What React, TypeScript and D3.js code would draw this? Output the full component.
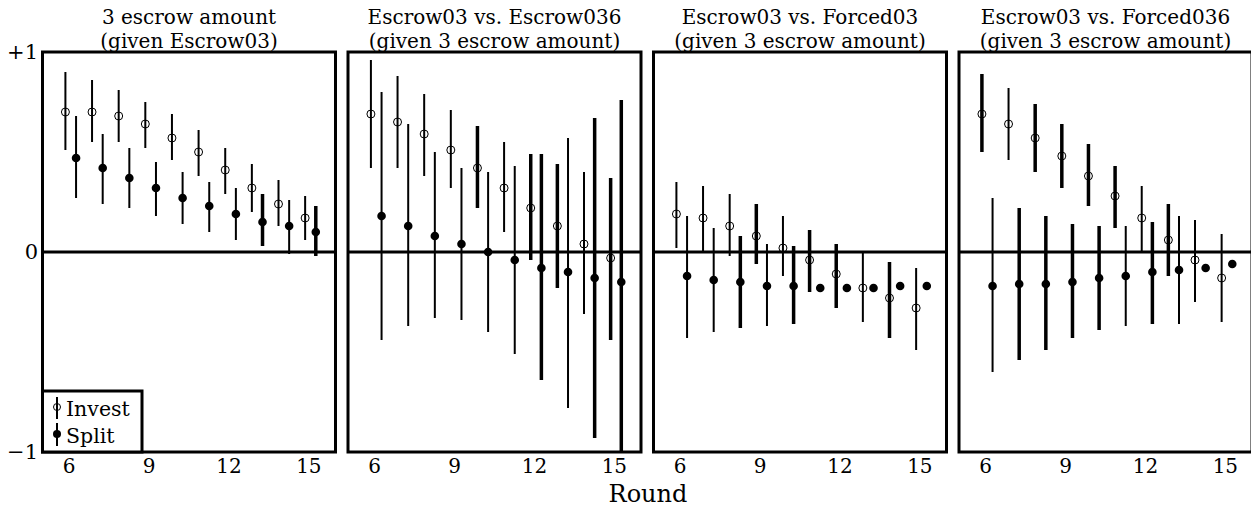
import { scaleLinear } from "d3";

const rounds = [6, 7, 8, 9, 10, 11, 12, 13, 14, 15];
const roundTicks = [6, 9, 12, 15];
const valueTicks = [1, 0, -1];
const valueTickLabels = ["+1", "0", "\u22121"];

const panelTitles = [
    ["3 escrow amount", "(given Escrow03)"],
    ["Escrow03 vs. Escrow036", "(given 3 escrow amount)"],
    ["Escrow03 vs. Forced03", "(given 3 escrow amount)"],
    ["Escrow03 vs. Forced036", "(given 3 escrow amount)"],
];

// [estimate, lower, upper] for each round
const amountInvest = [
    [0.7, 0.51, 0.9], [0.7, 0.55, 0.86], [0.68, 0.55, 0.81], [0.64, 0.52, 0.75], [0.57, 0.46, 0.69],
    [0.5, 0.38, 0.61], [0.41, 0.29, 0.52], [0.32, 0.2, 0.44], [0.24, 0.13, 0.36], [0.17, 0.06, 0.28],
];
const amountSplit = [
    [0.47, 0.27, 0.68], [0.42, 0.24, 0.59], [0.37, 0.22, 0.52], [0.32, 0.18, 0.45], [0.27, 0.14, 0.4],
    [0.23, 0.1, 0.35], [0.19, 0.06, 0.32], [0.15, 0.03, 0.29], [0.13, -0.01, 0.26], [0.1, -0.02, 0.23],
];
const escrow036Invest = [
    [0.69, 0.42, 0.96], [0.65, 0.42, 0.88], [0.59, 0.38, 0.79], [0.51, 0.32, 0.71], [0.42, 0.22, 0.63],
    [0.32, 0.1, 0.55], [0.22, -0.04, 0.49], [0.13, -0.18, 0.44], [0.04, -0.31, 0.4], [-0.03, -0.44, 0.37],
];
const escrow036Split = [
    [0.18, -0.44, 0.8], [0.13, -0.37, 0.64], [0.08, -0.33, 0.5], [0.04, -0.34, 0.42], [0.0, -0.4, 0.4],
    [-0.04, -0.51, 0.43], [-0.08, -0.64, 0.49], [-0.1, -0.78, 0.57], [-0.13, -0.93, 0.67], [-0.15, -1.05, 0.76],
];
const forced03Invest = [
    [0.19, 0.02, 0.35], [0.17, 0.0, 0.33], [0.13, -0.02, 0.29], [0.08, -0.06, 0.24], [0.02, -0.12, 0.18],
    [-0.04, -0.2, 0.11], [-0.11, -0.28, 0.04], [-0.18, -0.35, 0.0], [-0.23, -0.43, -0.05], [-0.28, -0.49, -0.08],
];
const forced03Split = [
    [-0.12, -0.43, 0.18], [-0.14, -0.4, 0.12], [-0.15, -0.38, 0.08], [-0.17, -0.37, 0.04], [-0.17, -0.36, 0.03],
    [-0.18, -0.18, -0.18], [-0.18, -0.18, -0.18], [-0.18, -0.18, -0.18], [-0.17, -0.17, -0.17], [-0.17, -0.17, -0.17],
];
const forced036Invest = [
    [0.69, 0.5, 0.89], [0.64, 0.46, 0.82], [0.57, 0.4, 0.74], [0.48, 0.32, 0.64], [0.38, 0.23, 0.54],
    [0.28, 0.12, 0.43], [0.17, 0.0, 0.33], [0.06, -0.12, 0.24], [-0.04, -0.25, 0.16], [-0.13, -0.35, 0.09],
];
const forced036Split = [
    [-0.17, -0.6, 0.27], [-0.16, -0.54, 0.22], [-0.16, -0.49, 0.18], [-0.15, -0.43, 0.14], [-0.13, -0.39, 0.13],
    [-0.12, -0.37, 0.13], [-0.1, -0.36, 0.15], [-0.09, -0.36, 0.18], [-0.08, -0.08, -0.08], [-0.06, -0.06, -0.06],
];

// 1 = significant (drawn with the heavier bar)
const amountInvestSig = [0, 0, 0, 0, 0, 0, 0, 0, 0, 0];
const amountSplitSig = [0, 0, 0, 0, 0, 0, 0, 1, 0, 1];
const escrow036InvestSig = [0, 0, 0, 0, 1, 0, 1, 1, 0, 1];
const escrow036SplitSig = [0, 0, 0, 0, 0, 0, 1, 0, 1, 1];
const forced03InvestSig = [0, 0, 0, 1, 0, 1, 1, 0, 1, 0];
const forced03SplitSig = [0, 0, 1, 0, 1, 0, 0, 0, 0, 0];
const forced036InvestSig = [1, 0, 1, 1, 1, 1, 0, 1, 0, 0];
const forced036SplitSig = [0, 1, 1, 1, 1, 0, 1, 0, 0, 0];

const panels = [
    { invest: amountInvest, investSig: amountInvestSig, split: amountSplit, splitSig: amountSplitSig },
    { invest: escrow036Invest, investSig: escrow036InvestSig, split: escrow036Split, splitSig: escrow036SplitSig },
    { invest: forced03Invest, investSig: forced03InvestSig, split: forced03Split, splitSig: forced03SplitSig },
    { invest: forced036Invest, investSig: forced036InvestSig, split: forced036Split, splitSig: forced036SplitSig },
];

const FONT = "DejaVu Serif";
const top = 52;
const bottom = 452;
const panelW = 293;
const step = 305.5;
const left0 = 42.5;
const investOff = -0.14;
const splitOff = 0.26;

function Panel({ index }: { index: number }) {
    const left = left0 + index * step;
    const x = scaleLinear().domain([5, 16]).range([left, left + panelW]);
    const y = scaleLinear().domain([-1, 1]).range([bottom, top]);
    const p = panels[index];
    const clipId = `clip-${index}`;

    return (
        <g>
            <defs>
                <clipPath id={clipId}>
                    <rect x={left} y={top} width={panelW} height={bottom - top} />
                </clipPath>
            </defs>
            {panelTitles[index].map((t, i) => (
                <text key={i} x={left + panelW / 2} y={24 + i * 24} textAnchor="middle" fontSize={20}>
                    {t}
                </text>
            ))}
            <g clipPath={`url(#${clipId})`}>
                <line x1={left} x2={left + panelW} y1={y(0)} y2={y(0)} stroke="black" strokeWidth={3} />
                {rounds.map((r, i) => {
                    const [, lo, hi] = p.invest[i];
                    return (
                        <line
                            key={"ib" + r}
                            x1={x(r + investOff)}
                            x2={x(r + investOff)}
                            y1={y(lo)}
                            y2={y(hi)}
                            stroke="black"
                            strokeWidth={p.investSig[i] ? 3.5 : 2}
                        />
                    );
                })}
                {rounds.map((r, i) => {
                    const [, lo, hi] = p.split[i];
                    if (lo === hi) return null;
                    return (
                        <line
                            key={"sb" + r}
                            x1={x(r + splitOff)}
                            x2={x(r + splitOff)}
                            y1={y(lo)}
                            y2={y(hi)}
                            stroke="black"
                            strokeWidth={p.splitSig[i] ? 3.5 : 2}
                        />
                    );
                })}
                {rounds.map((r, i) => (
                    <circle
                        key={"im" + r}
                        cx={x(r + investOff)}
                        cy={y(p.invest[i][0])}
                        r={4}
                        fill="none"
                        stroke="black"
                        strokeWidth={1}
                    />
                ))}
                {rounds.map((r, i) => (
                    <circle key={"sm" + r} cx={x(r + splitOff)} cy={y(p.split[i][0])} r={4.3} fill="black" />
                ))}
            </g>
            <rect x={left} y={top} width={panelW} height={bottom - top} fill="none" stroke="black" strokeWidth={3} />
            {roundTicks.map((t) => (
                <text key={t} x={x(t)} y={473} textAnchor="middle" fontSize={20}>
                    {t}
                </text>
            ))}
            {index === 0 &&
                valueTicks.map((v, i) => (
                    <text key={v} x={38} y={y(v) + 7} textAnchor="end" fontSize={21}>
                        {valueTickLabels[i]}
                    </text>
                ))}
            {index === 0 && (
                <g>
                    <rect x={left} y={391} width={99.5} height={bottom - 391} fill="white" stroke="black" strokeWidth={3} />
                    <line x1={57} x2={57} y1={397} y2={419} stroke="black" strokeWidth={2} />
                    <circle cx={57} cy={407} r={3.5} fill="none" stroke="black" strokeWidth={1} />
                    <text x={66} y={416} fontSize={20.5}>
                        Invest
                    </text>
                    <line x1={57} x2={57} y1={423} y2={446} stroke="black" strokeWidth={2} />
                    <circle cx={57} cy={434} r={4} fill="black" />
                    <text x={66} y={443} fontSize={20.5}>
                        Split
                    </text>
                </g>
            )}
        </g>
    );
}

export default function App() {
    return (
        <svg
            width={1251}
            height={511}
            style={{ position: "absolute", left: 0, top: 0, background: "white", fontFamily: FONT }}
        >
            {panels.map((_, i) => (
                <Panel key={i} index={i} />
            ))}
            <text x={648} y={502} textAnchor="middle" fontSize={24}>
                Round
            </text>
        </svg>
    );
}
